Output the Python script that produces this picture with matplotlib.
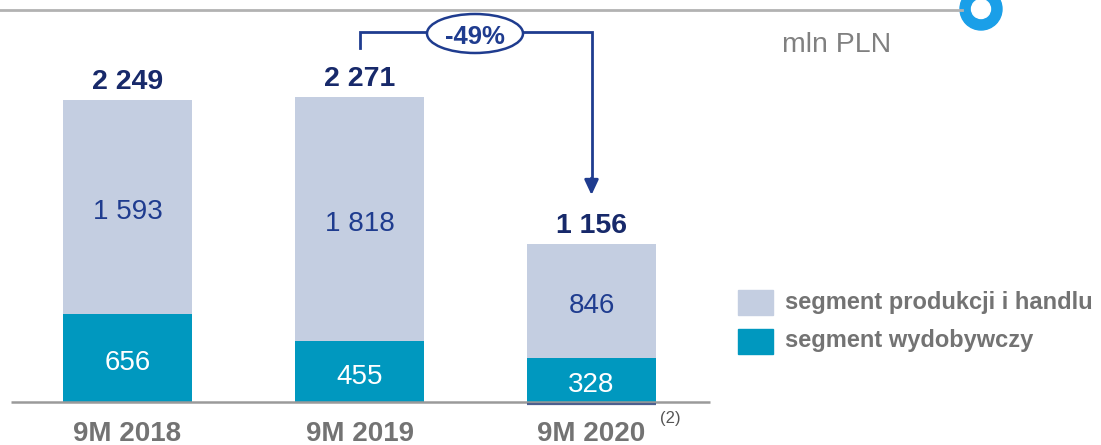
import matplotlib
matplotlib.use("Agg")
import matplotlib.pyplot as plt
from matplotlib.patches import Rectangle, Circle, Ellipse

plt.rcParams['font.family'] = ['Liberation Sans', 'DejaVu Sans']

# ---- data ----
categories = ["9M 2018", "9M 2019", "9M 2020"]
seg_wydob = [656, 455, 328]          # segment wydobywczy
seg_prod = [1593, 1818, 846]         # segment produkcji i handlu
totals = ["2 249", "2 271", "1 156"]
prod_labels = ["1 593", "1 818", "846"]
wydob_labels = ["656", "455", "328"]
legend_labels = ["segment produkcji i handlu", "segment wydobywczy"]
change_label = "-49%"
unit_label = "mln PLN"

# ---- style ----
c_prod = "#c4cee1"
c_wyd = "#0098bf"
navy = "#1f3c8f"
dark_navy = "#17296a"
grey_txt = "#737373"

W, H = 1101, 445
fig = plt.figure(figsize=(W / 100, H / 100), dpi=100)
ax = fig.add_axes([0, 0, 1, 1])
px_per_x = 232.0
px_per_y = 0.1343
x0_px = 127.5
base_px = 43.0
ax.set_xlim(-x0_px / px_per_x, (W - x0_px) / px_per_x)
ax.set_ylim(-base_px / px_per_y, (H - base_px) / px_per_y)
ax.axis("off")

x = list(range(len(categories)))
bw = 129 / px_per_x
ax.bar(x, seg_wydob, width=bw, color=c_wyd, zorder=2)
ax.bar(x, seg_prod, width=bw, bottom=seg_wydob, color=c_prod, zorder=2)

# baseline
ax.plot([-0.50, 2.51], [0, 0], color="#9a9a9a", lw=1.8, zorder=3, solid_capstyle="butt")
ax.plot([2 - bw / 2, 2 + bw / 2], [-18, -18], color="#4d5f8e", lw=1.6, zorder=3, solid_capstyle="butt")

for i in x:
    top = seg_wydob[i] + seg_prod[i]
    ax.annotate(totals[i], (i, top), xytext=(0, 15), textcoords="offset points",
                ha="center", va="center_baseline", fontsize=20.5, fontweight="bold",
                color=dark_navy, zorder=5)
    ax.annotate(prod_labels[i], (i, seg_wydob[i] + seg_prod[i] / 2), xytext=(0, -1.5),
                textcoords="offset points", ha="center", va="center_baseline",
                fontsize=20, color=navy, zorder=5)
    ax.annotate(wydob_labels[i], (i, seg_wydob[i] / 2), xytext=(0, -1.5),
                textcoords="offset points", ha="center", va="center_baseline",
                fontsize=20, color="white", zorder=5)
    ax.annotate(categories[i], (i, 0), xytext=(0, -27.8), textcoords="offset points",
                ha="center", va="baseline", fontsize=20, fontweight="bold",
                color=grey_txt)
ax.annotate("(2)", (2, 0), xytext=(57, -11), textcoords="offset points",
            ha="center", va="center_baseline", fontsize=12, color="#555555")


def ydat(p_top):
    return (H - base_px - p_top) / px_per_y


# bracket with change arrow
y_br = ydat(32)
ax.plot([1, 1, 2, 2], [ydat(48), y_br, y_br, ydat(180)], color=navy, lw=2, zorder=4,
        solid_joinstyle="miter")
ax.annotate("", xy=(2, ydat(195)), xytext=(2, ydat(178)),
            arrowprops=dict(arrowstyle="-|>,head_length=0.9,head_width=0.42",
                            color=navy, lw=2, shrinkA=0, shrinkB=0), zorder=4)

# overlay in pixel space for decorations
ov = fig.add_axes([0, 0, 1, 1], facecolor="none")
ov.set_xlim(0, W)
ov.set_ylim(H, 0)
ov.axis("off")
ov.add_patch(Ellipse((475, 33.5), 96, 39, fc="white", ec=navy, lw=1.8, zorder=5))
ov.text(475, 34, change_label, ha="center", va="center_baseline", fontsize=18.5,
        fontweight="bold", color=navy, zorder=6)
ov.plot([0, 962], [10, 10], color="#b2b2b2", lw=2)
ov.add_patch(Circle((981, 9), 21, color="#1a9fe8"))
ov.add_patch(Circle((981, 9), 9.5, color="white"))
ov.text(837, 41.5, unit_label, ha="center", va="center_baseline", fontsize=20.5,
        color="#808080")

leg_colors = [c_prod, c_wyd]
leg_y = [302, 341]
for col, yy, lab in zip(leg_colors, leg_y, legend_labels):
    ov.add_patch(Rectangle((738, yy - 12.5), 35, 25, color=col))
    ov.text(785, yy, lab, ha="left", va="center", fontsize=17, fontweight="bold",
            color=grey_txt)

fig.savefig("out.png", dpi=100)
